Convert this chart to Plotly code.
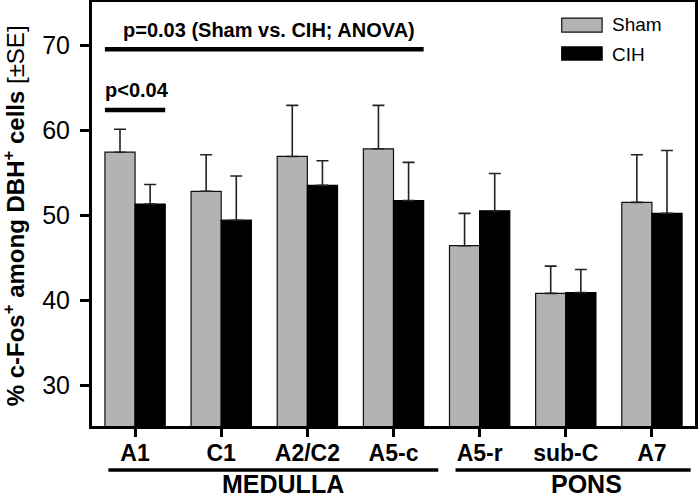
import plotly.graph_objects as go

categories = ["A1", "C1", "A2/C2", "A5-c", "A5-r", "sub-C", "A7"]
sham_values = [57.4, 52.8, 56.9, 57.8, 46.4, 40.8, 51.5]
sham_se = [2.7, 4.3, 6.0, 5.1, 3.8, 3.2, 5.6]
cih_values = [51.3, 49.4, 53.5, 51.7, 50.5, 40.9, 50.2]
cih_se = [2.3, 5.2, 2.9, 4.5, 4.4, 2.7, 7.4]
y_ticks = [30, 40, 50, 60, 70]

FONT = "Liberation Sans, Arial, sans-serif"
zeros = [0] * len(categories)

fig = go.Figure()
fig.add_trace(go.Bar(
    name="Sham", x=categories, y=sham_values,
    marker=dict(color="#b3b3b3", line=dict(color="#111111", width=1.2)),
    error_y=dict(type="data", array=sham_se, arrayminus=zeros, symmetric=False,
                 color="#222222", thickness=1.6, width=6),
))
fig.add_trace(go.Bar(
    name="CIH", x=categories, y=cih_values,
    marker=dict(color="#000000", line=dict(color="#000000", width=1.2)),
    error_y=dict(type="data", array=cih_se, arrayminus=zeros, symmetric=False,
                 color="#222222", thickness=1.6, width=6),
))

shapes = []
annotations = []
# significance lines
shapes.append(dict(type="line", xref="x", yref="y", x0=-0.35, x1=3.35, y0=69.5, y1=69.5,
                   line=dict(color="black", width=4.5)))
shapes.append(dict(type="line", xref="x", yref="y", x0=-0.35, x1=0.35, y0=62.35, y1=62.35,
                   line=dict(color="black", width=4.5)))
annotations.append(dict(xref="x", yref="y", x=1.55, y=71.8, yanchor="middle",
                        text="<b>p=0.03 (Sham vs. CIH; ANOVA)</b>",
                        showarrow=False, font=dict(family=FONT, size=20, color="black")))
annotations.append(dict(xref="x", yref="y", x=-0.37, y=64.7, xanchor="left", yanchor="middle",
                        text="<b>p<0.04</b>",
                        showarrow=False, font=dict(family=FONT, size=20, color="black")))
# region lines below axis
shapes.append(dict(type="line", xref="x", yref="paper", x0=-0.31, x1=3.52, y0=-0.104, y1=-0.104,
                   line=dict(color="black", width=3.5)))
shapes.append(dict(type="line", xref="x", yref="paper", x0=3.72, x1=6.45, y0=-0.104, y1=-0.104,
                   line=dict(color="black", width=3.5)))
annotations.append(dict(xref="x", yref="paper", x=1.72, y=-0.137, yanchor="middle", text="<b>MEDULLA</b>",
                        showarrow=False, font=dict(family=FONT, size=25, color="black")))
annotations.append(dict(xref="x", yref="paper", x=5.24, y=-0.137, yanchor="middle", text="<b>PONS</b>",
                        showarrow=False, font=dict(family=FONT, size=25, color="black")))
# y-axis title
annotations.append(dict(xref="paper", yref="paper", x=-0.129, y=0.495, xanchor="center", yanchor="middle",
                        textangle=-90,
                        text="<b>% c-Fos<sup>+</sup> among DBH<sup>+</sup> cells</b> [±SE]",
                        showarrow=False, font=dict(family=FONT, size=24, color="black")))
# legend
shapes.append(dict(type="rect", xref="paper", yref="paper", x0=0.779, x1=0.846, y0=0.929, y1=0.962,
                   fillcolor="#b3b3b3", line=dict(color="#111111", width=1.2)))
shapes.append(dict(type="rect", xref="paper", yref="paper", x0=0.779, x1=0.846, y0=0.863, y1=0.894,
                   fillcolor="#000000", line=dict(color="#000000", width=1.2)))
annotations.append(dict(xref="paper", yref="paper", x=0.859, y=0.946, xanchor="left", yanchor="middle",
                        text="Sham", showarrow=False, font=dict(family=FONT, size=19, color="black")))
annotations.append(dict(xref="paper", yref="paper", x=0.859, y=0.877, xanchor="left", yanchor="middle",
                        text="CIH", showarrow=False, font=dict(family=FONT, size=19, color="black")))

fig.update_layout(
    width=700, height=502,
    margin=dict(l=92, r=5, t=2, b=76, autoexpand=False),
    paper_bgcolor="white", plot_bgcolor="white",
    barmode="group", bargap=0.3, bargroupgap=0,
    showlegend=False,
    font=dict(family=FONT, color="black"),
    shapes=shapes, annotations=annotations,
)
fig.update_xaxes(
    range=[-0.5, 6.5], showline=True, linecolor="black", linewidth=3, mirror=True,
    ticks="outside", ticklen=8, tickwidth=2.5, tickcolor="black",
    tickfont=dict(family=FONT, size=23, color="black"),
    tickvals=categories, ticktext=["<b>%s</b>" % c for c in categories],
    ticklabelstandoff=-4,
    showgrid=False, automargin=False,
)
fig.update_yaxes(
    range=[25.2, 75.06], showline=True, linecolor="black", linewidth=3, mirror=True,
    ticks="outside", ticklen=9, tickwidth=2.5, tickcolor="black",
    tickvals=y_ticks, tickfont=dict(family=FONT, size=25, color="black"),
    ticklabelstandoff=5,
    showgrid=False, zeroline=False, automargin=False,
)
fig.write_html("out.html", config={"displayModeBar": False},
               post_script="document.body.style.margin='0px';document.body.style.overflow='hidden';")
